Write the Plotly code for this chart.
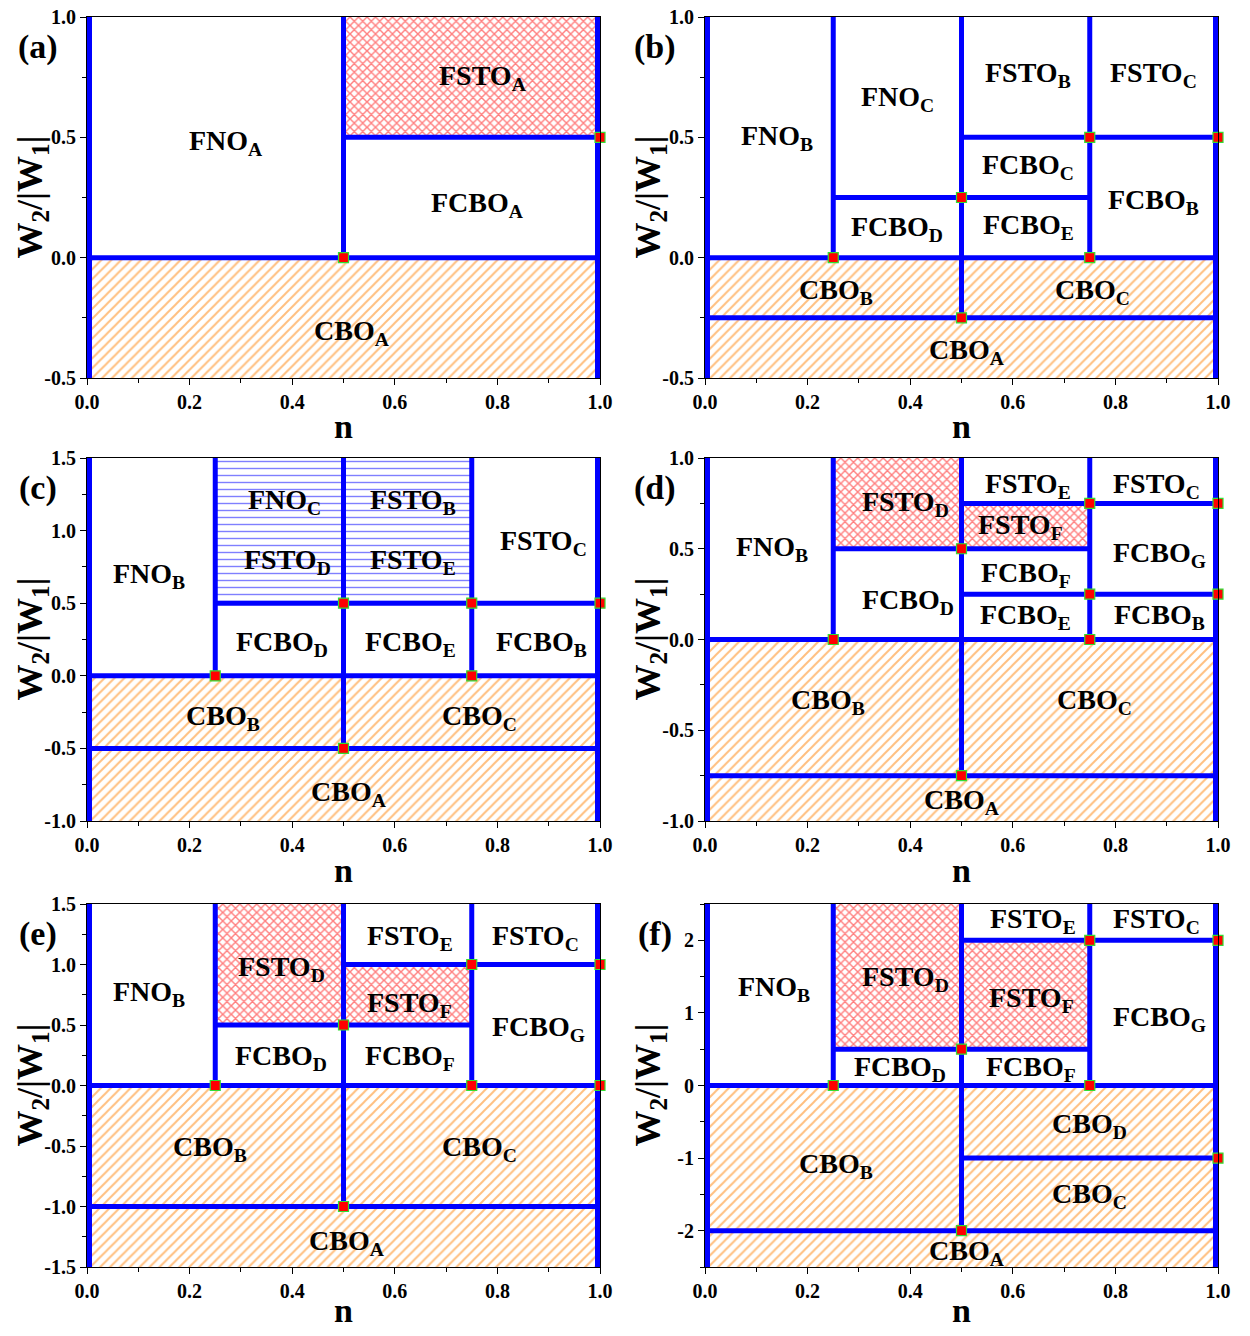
import plotly.graph_objects as go

FONT = "Liberation Serif"

# ---------------- data: (x0, x1, y0, y1) regions, wall segments (x0, y0, x1, y1), points, labels
a_orange = [(0, 1, -0.5, 0.0)]
a_red = [(0.5, 1, 0.5, 1.0)]
a_blue = []
a_walls = [(0, -0.5, 0, 1.0), (1, -0.5, 1, 1.0), (0, 0, 1, 0), (0.5, 0, 0.5, 1.0), (0.5, 0.5, 1, 0.5)]
a_pts_x = [0.5, 1.0]
a_pts_y = [0.0, 0.5]
a_labels = [("FNO", "A", 0.27, 0.48), ("FSTO", "A", 0.77, 0.75), ("FCBO", "A", 0.76, 0.22), ("CBO", "A", 0.515, -0.31)]

b_orange = [(0, 0.5, -0.25, 0.0), (0.5, 1, -0.25, 0.0), (0, 1, -0.5, -0.25)]
b_red = []
b_blue = []
b_walls = [(0, -0.5, 0, 1.0), (1, -0.5, 1, 1.0), (0, 0, 1, 0), (0, -0.25, 1, -0.25),
           (0.5, -0.25, 0.5, 1.0), (0.25, 0, 0.25, 1.0), (0.75, 0, 0.75, 1.0),
           (0.25, 0.25, 0.75, 0.25), (0.5, 0.5, 1, 0.5)]
b_pts_x = [0.25, 0.5, 0.75, 1.0, 0.75, 0.5]
b_pts_y = [0.0, 0.25, 0.5, 0.5, 0.0, -0.25]
b_labels = [("FNO", "B", 0.14, 0.5), ("FNO", "C", 0.375, 0.66), ("FSTO", "B", 0.63, 0.76),
            ("FSTO", "C", 0.875, 0.76), ("FCBO", "C", 0.63, 0.38), ("FCBO", "E", 0.63, 0.13),
            ("FCBO", "D", 0.375, 0.12), ("FCBO", "B", 0.875, 0.235), ("CBO", "B", 0.255, -0.14),
            ("CBO", "C", 0.755, -0.14), ("CBO", "A", 0.51, -0.39)]

c_orange = [(0, 0.5, -0.5, 0.0), (0.5, 1, -0.5, 0.0), (0, 1, -1.0, -0.5)]
c_red = []
c_blue = [(0.25, 0.75, 0.5, 1.5)]
c_walls = [(0, -1.0, 0, 1.5), (1, -1.0, 1, 1.5), (0, 0, 1, 0), (0, -0.5, 1, -0.5),
           (0.5, -0.5, 0.5, 1.5), (0.25, 0, 0.25, 1.5), (0.75, 0, 0.75, 1.5), (0.25, 0.5, 1, 0.5)]
c_pts_x = [0.25, 0.75, 0.5, 0.75, 1.0, 0.5]
c_pts_y = [0.0, 0.0, 0.5, 0.5, 0.5, -0.5]
c_labels = [("FNO", "B", 0.12, 0.69), ("FNO", "C", 0.385, 1.2), ("FSTO", "B", 0.635, 1.2),
            ("FSTO", "D", 0.39, 0.79), ("FSTO", "E", 0.635, 0.79), ("FSTO", "C", 0.89, 0.92),
            ("FCBO", "D", 0.38, 0.22), ("FCBO", "E", 0.63, 0.22), ("FCBO", "B", 0.885, 0.22),
            ("CBO", "B", 0.265, -0.29), ("CBO", "C", 0.765, -0.29), ("CBO", "A", 0.51, -0.81)]

d_orange = [(0, 0.5, -0.75, 0.0), (0.5, 1, -0.75, 0.0), (0, 1, -1.0, -0.75)]
d_red = [(0.25, 0.5, 0.5, 1.0), (0.5, 0.75, 0.5, 0.75)]
d_blue = []
d_walls = [(0, -1.0, 0, 1.0), (1, -1.0, 1, 1.0), (0, 0, 1, 0), (0, -0.75, 1, -0.75),
           (0.5, -0.75, 0.5, 1.0), (0.25, 0, 0.25, 1.0), (0.75, 0, 0.75, 1.0),
           (0.25, 0.5, 0.75, 0.5), (0.5, 0.75, 1, 0.75), (0.5, 0.25, 1, 0.25)]
d_pts_x = [0.25, 0.5, 0.75, 1.0, 0.75, 1.0, 0.75, 0.5]
d_pts_y = [0.0, 0.5, 0.75, 0.75, 0.25, 0.25, 0.0, -0.75]
d_labels = [("FNO", "B", 0.13, 0.5), ("FSTO", "D", 0.39, 0.75), ("FSTO", "E", 0.63, 0.85),
            ("FSTO", "C", 0.88, 0.85), ("FSTO", "F", 0.615, 0.62), ("FCBO", "G", 0.885, 0.47),
            ("FCBO", "D", 0.395, 0.21), ("FCBO", "F", 0.625, 0.36), ("FCBO", "E", 0.625, 0.125),
            ("FCBO", "B", 0.885, 0.125), ("CBO", "B", 0.24, -0.34), ("CBO", "C", 0.76, -0.34),
            ("CBO", "A", 0.5, -0.89)]

e_orange = [(0, 0.5, -1.0, 0.0), (0.5, 1, -1.0, 0.0), (0, 1, -1.5, -1.0)]
e_red = [(0.25, 0.5, 0.5, 1.5), (0.5, 0.75, 0.5, 1.0)]
e_blue = []
e_walls = [(0, -1.5, 0, 1.5), (1, -1.5, 1, 1.5), (0, 0, 1, 0), (0, -1.0, 1, -1.0),
           (0.5, -1.0, 0.5, 1.5), (0.25, 0, 0.25, 1.5), (0.75, 0, 0.75, 1.5),
           (0.25, 0.5, 0.75, 0.5), (0.5, 1.0, 1, 1.0)]
e_pts_x = [0.25, 0.5, 0.75, 1.0, 0.75, 1.0, 0.5]
e_pts_y = [0.0, 0.5, 1.0, 1.0, 0.0, 0.0, -1.0]
e_labels = [("FNO", "B", 0.12, 0.76), ("FSTO", "D", 0.38, 0.97), ("FSTO", "E", 0.63, 1.22),
            ("FSTO", "C", 0.875, 1.22), ("FSTO", "F", 0.628, 0.67), ("FCBO", "G", 0.88, 0.47),
            ("FCBO", "D", 0.378, 0.23), ("FCBO", "F", 0.63, 0.23), ("CBO", "B", 0.24, -0.52),
            ("CBO", "C", 0.765, -0.52), ("CBO", "A", 0.505, -1.3)]

f_orange = [(0, 0.5, -2.0, 0.0), (0.5, 1, -1.0, 0.0), (0.5, 1, -2.0, -1.0), (0, 1, -2.5, -2.0)]
f_red = [(0.25, 0.5, 0.5, 2.5), (0.5, 0.75, 0.5, 2.0)]
f_blue = []
f_walls = [(0, -2.5, 0, 2.5), (1, -2.5, 1, 2.5), (0, 0, 1, 0), (0, -2.0, 1, -2.0),
           (0.5, -1.0, 1, -1.0), (0.5, -2.0, 0.5, 2.5), (0.25, 0, 0.25, 2.5),
           (0.75, 0, 0.75, 2.5), (0.25, 0.5, 0.75, 0.5), (0.5, 2.0, 1, 2.0)]
f_pts_x = [0.25, 0.5, 0.75, 1.0, 0.75, 1.0, 0.5]
f_pts_y = [0.0, 0.5, 2.0, 2.0, 0.0, -1.0, -2.0]
f_labels = [("FNO", "B", 0.135, 1.33), ("FSTO", "D", 0.39, 1.47), ("FSTO", "E", 0.64, 2.27),
            ("FSTO", "C", 0.88, 2.27), ("FSTO", "F", 0.637, 1.19), ("FCBO", "G", 0.885, 0.92),
            ("FCBO", "D", 0.38, 0.24), ("FCBO", "F", 0.635, 0.24), ("CBO", "B", 0.255, -1.1),
            ("CBO", "D", 0.75, -0.55), ("CBO", "C", 0.75, -1.52), ("CBO", "A", 0.51, -2.3)]

panel_tags = ["(a)", "(b)", "(c)", "(d)", "(e)", "(f)"]
y_ranges = [[-0.5, 1.0], [-0.5, 1.0], [-1.0, 1.5], [-1.0, 1.0], [-1.5, 1.5], [-2.5, 2.5]]
y_tickvals = [[-0.5, 0.0, 0.5, 1.0], [-0.5, 0.0, 0.5, 1.0], [-1.0, -0.5, 0.0, 0.5, 1.0, 1.5],
              [-1.0, -0.5, 0.0, 0.5, 1.0], [-1.5, -1.0, -0.5, 0.0, 0.5, 1.0, 1.5],
              [-2, -1, 0, 1, 2]]
y_ticktext = [["-0.5", "0.0", "0.5", "1.0"], ["-0.5", "0.0", "0.5", "1.0"],
              ["-1.0", "-0.5", "0.0", "0.5", "1.0", "1.5"], ["-1.0", "-0.5", "0.0", "0.5", "1.0"],
              ["-1.5", "-1.0", "-0.5", "0.0", "0.5", "1.0", "1.5"], ["-2", "-1", "0", "1", "2"]]
y_minor = [0.25, 0.25, 0.25, 0.25, 0.25, 0.5]
x_range = [0.0, 1.0]
x_tickvals = [0.0, 0.2, 0.4, 0.6, 0.8, 1.0]
x_ticktext = ["0.0", "0.2", "0.4", "0.6", "0.8", "1.0"]
x_minor = 0.1

panels = [
    (a_orange, a_red, a_blue, a_walls, a_pts_x, a_pts_y, a_labels),
    (b_orange, b_red, b_blue, b_walls, b_pts_x, b_pts_y, b_labels),
    (c_orange, c_red, c_blue, c_walls, c_pts_x, c_pts_y, c_labels),
    (d_orange, d_red, d_blue, d_walls, d_pts_x, d_pts_y, d_labels),
    (e_orange, e_red, e_blue, e_walls, e_pts_x, e_pts_y, e_labels),
    (f_orange, f_red, f_blue, f_walls, f_pts_x, f_pts_y, f_labels),
]

# ---------------- layout geometry (reference pixels; page body adds an 8px offset)
OFF = 8
W, H = 1250 - 2 * OFF, 1336 - 2 * OFF
col_px = [(87, 600), (705, 1218)]
row_px = [(17, 378), (458, 821), (904, 1267)]
n_title_gap = [49, 49, 43]


def px_x(p):
    return (p - OFF) / W


def px_y(p):
    return 1 - (p - OFF) / H


fig = go.Figure()

BLUE = "#0000ff"
pattern_styles = {
    "orange": dict(shape="/", fgcolor="#ff7f00", bgcolor="white", size=7, solidity=0.28),
    "red": dict(shape="x", fgcolor="#ff0000", bgcolor="white", size=6, solidity=0.42),
    "blue": dict(shape="-", fgcolor="#0000ff", bgcolor="white", size=7, solidity=0.2),
}

annotations = []
for i, (orange, red, blue, walls, px, py, labels) in enumerate(panels):
    k = i + 1
    xs = "x" if k == 1 else f"x{k}"
    ys = "y" if k == 1 else f"y{k}"
    for kind, regs in (("orange", orange), ("red", red), ("blue", blue)):
        for (x0, x1, y0, y1) in regs:
            fig.add_trace(go.Scatter(
                x=[x0, x1, x1, x0, x0], y=[y0, y0, y1, y1, y0], xaxis=xs, yaxis=ys,
                mode="lines", fill="toself", fillcolor="white",
                fillpattern=pattern_styles[kind],
                line=dict(width=0, color="rgba(0,0,0,0)"), hoverinfo="skip"))
    for (x0, y0, x1, y1) in walls:
        edge = (x0 == x1) and (x0 in (0, 1))
        fig.add_trace(go.Scatter(
            x=[x0, x1], y=[y0, y1], xaxis=xs, yaxis=ys, mode="lines",
            line=dict(color=BLUE, width=10 if edge else 5), hoverinfo="skip"))
    fig.add_trace(go.Scatter(
        x=px, y=py, xaxis=xs, yaxis=ys, mode="markers", cliponaxis=False,
        marker=dict(symbol="square", size=10, color="#ff0000",
                    line=dict(color="#33dd33", width=1.2)), hoverinfo="skip"))
    for (name, sub, lx, ly) in labels:
        annotations.append(dict(
            x=lx, y=ly, xref=xs, yref=ys, showarrow=False, xanchor="center", yanchor="middle",
            text=f"<b>{name}<sub>{sub}</sub></b>",
            font=dict(family=FONT, size=28, color="black")))

layout = dict(width=W, height=H, margin=dict(l=0, r=0, t=0, b=0, autoexpand=False),
              paper_bgcolor="white", plot_bgcolor="white", showlegend=False)

tickfont = dict(family=FONT, size=20, color="black", weight="bold")
for i in range(6):
    k = i + 1
    r, c = divmod(i, 2)
    xd = [px_x(col_px[c][0]), px_x(col_px[c][1])]
    yd = [px_y(row_px[r][1]), px_y(row_px[r][0])]
    xs = "x" if k == 1 else f"x{k}"
    ys = "y" if k == 1 else f"y{k}"
    xname = "xaxis" if k == 1 else f"xaxis{k}"
    yname = "yaxis" if k == 1 else f"yaxis{k}"
    common = dict(showgrid=False, zeroline=False, automargin=False, tickcolor="black")
    layout[xname] = dict(domain=xd, anchor=ys, range=x_range, tickmode="array",
                         tickvals=x_tickvals, ticktext=x_ticktext, ticks="outside", ticklen=6,
                         tickwidth=1, showline=True, linecolor="black", linewidth=1,
                         mirror=True, tickfont=tickfont, ticklabeloverflow="allow",
                         minor=dict(ticks="outside", ticklen=4, dtick=x_minor, tick0=0,
                                    tickcolor="black", showgrid=False), **common)
    layout[yname] = dict(domain=yd, anchor=xs, range=y_ranges[i], tickmode="array",
                         tickvals=y_tickvals[i], ticktext=y_ticktext[i], ticks="outside",
                         ticklen=6, tickwidth=1, showline=True, linecolor="black", linewidth=1,
                         mirror=True, tickfont=tickfont, ticklabeloverflow="allow",
                         minor=dict(ticks="outside", ticklen=4, dtick=y_minor[i], tick0=0,
                                    tickcolor="black", showgrid=False), **common)
    layout[f"xaxis{k + 6}"] = dict(overlaying=xs, side="top", anchor=ys, range=x_range,
                                   tickmode="array", tickvals=x_tickvals, ticks="inside",
                                   ticklen=6, showticklabels=False, showline=False,
                                   minor=dict(ticks="inside", ticklen=4, dtick=x_minor, tick0=0,
                                              tickcolor="black", showgrid=False), **common)
    layout[f"yaxis{k + 6}"] = dict(overlaying=ys, side="right", anchor=xs, range=y_ranges[i],
                                   tickmode="array", tickvals=y_tickvals[i], ticks="inside",
                                   ticklen=6, showticklabels=False, showline=False,
                                   minor=dict(ticks="inside", ticklen=4, dtick=y_minor[i],
                                              tick0=0, tickcolor="black", showgrid=False),
                                   **common)
    xc = (col_px[c][0] + col_px[c][1]) / 2
    ytitle_x = 32 if c == 0 else 650
    yc = (row_px[r][0] + row_px[r][1]) / 2
    annotations.append(dict(x=px_x(xc), y=px_y(row_px[r][1] + n_title_gap[r]), xref="paper",
                            yref="paper", xanchor="center", yanchor="middle",
                            text="<b>n</b>", showarrow=False,
                            font=dict(family=FONT, size=34, color="black")))
    annotations.append(dict(x=px_x(ytitle_x), y=px_y(yc), xref="paper", yref="paper",
                            xanchor="center", yanchor="middle",
                            text="<b>W<sub>2</sub>/|W<sub>1</sub>|</b>", textangle=-90,
                            showarrow=False, font=dict(family=FONT, size=36, color="black")))
    tag_x = 38 if c == 0 else 655
    annotations.append(dict(x=px_x(tag_x), y=px_y(row_px[r][0] + 30), xref="paper",
                            yref="paper", xanchor="center", yanchor="middle",
                            text=f"<b>{panel_tags[i]}</b>", showarrow=False,
                            font=dict(family=FONT, size=34, color="black")))

layout["annotations"] = annotations
fig.update_layout(**layout)
fig.write_html("out.html")
